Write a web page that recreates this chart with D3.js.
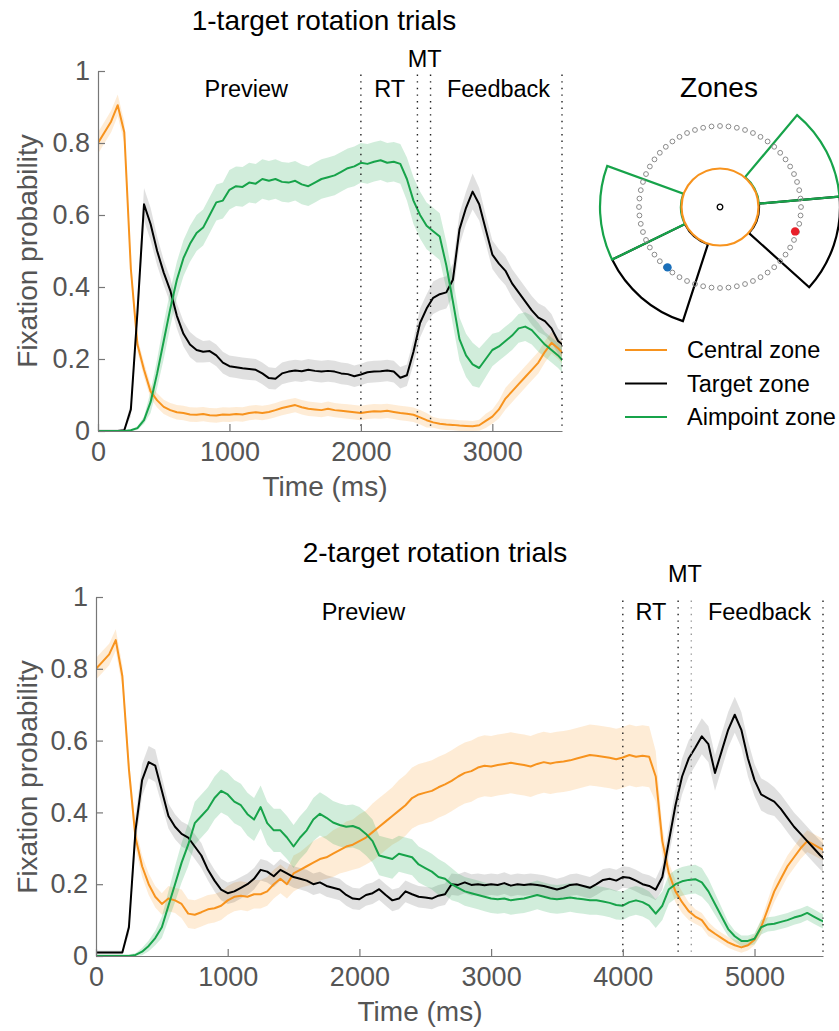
<!DOCTYPE html>
<html>
<head>
<meta charset="utf-8">
<script src="https://cdn.jsdelivr.net/npm/d3@7"></script>
<style>
  body { margin: 0; background: #fff; }
  svg { display: block; font-family: Helvetica, "Liberation Sans", Arial, sans-serif; }
</style>
</head>
<body>
<div id="chart"></div>
<script>
const yTicks = [0, 0.2, 0.4, 0.6, 0.8, 1];
const oneTargetTicks = [0, 1000, 2000, 3000];
const twoTargetTicks = [0, 1000, 2000, 3000, 4000, 5000];
const oneTargetEvents = [2000, 2430, 2530, 3530];
const twoTargetEvents = [4000, 4420, 4520, 5520];
const phaseLabels = ['Preview', 'RT', 'MT', 'Feedback'];
const oneTargetLabelTimes = [1128, 2219, 2485, 3047];
const twoTargetLabelTimes = [2031, 4214, 4472, 5038];
const seriesNames = ['Central zone', 'Target zone', 'Aimpoint zone'];

const oneTime = d3.range(0, 3551, 50);
const twoTime = d3.range(0, 5551, 50);

const oneCentral = [
  0.80, 0.83, 0.86, 0.905, 0.83, 0.45, 0.24, 0.17, 0.11, 0.085,
  0.067, 0.058, 0.052, 0.05, 0.046, 0.045, 0.047, 0.044, 0.043, 0.046,
  0.045, 0.047, 0.046, 0.05, 0.052, 0.05, 0.053, 0.058, 0.064, 0.068,
  0.072, 0.066, 0.062, 0.06, 0.058, 0.062, 0.058, 0.056, 0.054, 0.052,
  0.05, 0.053, 0.055, 0.054, 0.056, 0.053, 0.05, 0.048, 0.045, 0.038,
  0.03, 0.024, 0.02, 0.018, 0.017, 0.015, 0.014, 0.013, 0.016, 0.028,
  0.04, 0.06, 0.09, 0.11, 0.13, 0.15, 0.17, 0.19, 0.22, 0.245,
  0.23, 0.21
];
const oneCentralErr = [
  0.03, 0.03, 0.03, 0.03, 0.03, 0.025, 0.02, 0.02, 0.02, 0.02,
  0.02, 0.02, 0.02, 0.02, 0.02, 0.02, 0.02, 0.02, 0.02, 0.02,
  0.02, 0.02, 0.02, 0.02, 0.02, 0.02, 0.02, 0.02, 0.02, 0.02,
  0.02, 0.02, 0.02, 0.02, 0.02, 0.02, 0.02, 0.02, 0.02, 0.02,
  0.02, 0.02, 0.02, 0.02, 0.02, 0.02, 0.02, 0.02, 0.02, 0.02,
  0.02, 0.015, 0.015, 0.015, 0.015, 0.015, 0.015, 0.015, 0.015, 0.02,
  0.02, 0.025, 0.03, 0.03, 0.03, 0.03, 0.03, 0.03, 0.03, 0.03,
  0.03, 0.03
];
const oneTarget = [
  0, 0, 0, 0, 0.002, 0.06, 0.33, 0.63, 0.575, 0.5,
  0.44, 0.39, 0.32, 0.27, 0.24, 0.225, 0.22, 0.222, 0.21, 0.19,
  0.18, 0.177, 0.174, 0.172, 0.17, 0.16, 0.147, 0.145, 0.16, 0.165,
  0.168, 0.166, 0.17, 0.167, 0.165, 0.167, 0.165, 0.16, 0.158, 0.152,
  0.157, 0.163, 0.165, 0.166, 0.168, 0.165, 0.148, 0.155, 0.22, 0.3,
  0.34, 0.37, 0.38, 0.385, 0.42, 0.56, 0.62, 0.665, 0.63, 0.56,
  0.49, 0.465, 0.445, 0.41, 0.385, 0.36, 0.335, 0.315, 0.305, 0.285,
  0.25, 0.235
];
const oneTargetErr = [
  0.005, 0.005, 0.005, 0.005, 0.005, 0.02, 0.04, 0.045, 0.045, 0.04,
  0.035, 0.035, 0.035, 0.035, 0.035, 0.035, 0.03, 0.03, 0.03, 0.03,
  0.03, 0.03, 0.03, 0.03, 0.03, 0.03, 0.03, 0.03, 0.03, 0.03,
  0.03, 0.03, 0.03, 0.03, 0.03, 0.03, 0.03, 0.03, 0.03, 0.03,
  0.03, 0.03, 0.03, 0.03, 0.03, 0.03, 0.03, 0.03, 0.035, 0.04,
  0.04, 0.045, 0.045, 0.045, 0.045, 0.045, 0.045, 0.05, 0.045, 0.04,
  0.04, 0.04, 0.04, 0.04, 0.04, 0.04, 0.04, 0.04, 0.04, 0.04,
  0.035, 0.035
];
const oneAim = [
  0, 0, 0, 0, 0, 0.002, 0.008, 0.03, 0.08, 0.16,
  0.25, 0.34, 0.42, 0.48, 0.52, 0.55, 0.565, 0.6, 0.635, 0.64,
  0.67, 0.68, 0.678, 0.69, 0.687, 0.7, 0.695, 0.7, 0.692, 0.69,
  0.695, 0.685, 0.68, 0.69, 0.7, 0.705, 0.71, 0.72, 0.73, 0.735,
  0.745, 0.742, 0.748, 0.752, 0.745, 0.748, 0.742, 0.7, 0.64, 0.6,
  0.57, 0.555, 0.54, 0.46, 0.36, 0.255, 0.21, 0.185, 0.175, 0.2,
  0.225, 0.235, 0.25, 0.265, 0.285, 0.29, 0.28, 0.26, 0.24, 0.225,
  0.21, 0.19
];
const oneAimErr = [
  0, 0, 0, 0, 0, 0.003, 0.005, 0.01, 0.03, 0.04,
  0.05, 0.05, 0.05, 0.05, 0.05, 0.05, 0.05, 0.05, 0.05, 0.05,
  0.055, 0.055, 0.055, 0.055, 0.055, 0.055, 0.055, 0.055, 0.055, 0.055,
  0.055, 0.055, 0.055, 0.055, 0.055, 0.055, 0.055, 0.055, 0.055, 0.055,
  0.055, 0.055, 0.055, 0.055, 0.055, 0.055, 0.055, 0.06, 0.065, 0.065,
  0.065, 0.065, 0.065, 0.065, 0.065, 0.06, 0.06, 0.06, 0.055, 0.05,
  0.045, 0.04, 0.04, 0.04, 0.04, 0.04, 0.04, 0.04, 0.035, 0.035,
  0.035, 0.035
];

const twoCentral = [
  0.8, 0.82, 0.84, 0.88, 0.78, 0.52, 0.33, 0.25, 0.2, 0.165,
  0.145, 0.16, 0.155, 0.145, 0.118, 0.115, 0.122, 0.13, 0.133, 0.14,
  0.155, 0.165, 0.168, 0.165, 0.172, 0.172, 0.18, 0.2, 0.215, 0.2,
  0.23, 0.24, 0.25, 0.26, 0.27, 0.275, 0.285, 0.295, 0.305, 0.31,
  0.32, 0.33, 0.345, 0.36, 0.375, 0.39, 0.405, 0.42, 0.44, 0.45,
  0.455, 0.46, 0.47, 0.478, 0.488, 0.5, 0.51, 0.515, 0.525, 0.53,
  0.528, 0.532, 0.535, 0.538, 0.535, 0.532, 0.528, 0.535, 0.54, 0.536,
  0.54, 0.542, 0.545, 0.55, 0.555, 0.56, 0.558, 0.555, 0.552, 0.548,
  0.553, 0.56, 0.555, 0.558, 0.555, 0.5, 0.32, 0.23, 0.18, 0.15,
  0.125, 0.11, 0.1, 0.075, 0.062, 0.05, 0.038, 0.03, 0.024, 0.03,
  0.045, 0.08, 0.13, 0.18, 0.215, 0.25, 0.275, 0.3, 0.32, 0.31,
  0.3, 0.29
];
const twoCentralErr = [
  0.03, 0.03, 0.03, 0.03, 0.03, 0.03, 0.03, 0.03, 0.03, 0.03,
  0.03, 0.035, 0.035, 0.04, 0.04, 0.04, 0.04, 0.04, 0.04, 0.04,
  0.04, 0.04, 0.04, 0.04, 0.04, 0.04, 0.04, 0.04, 0.04, 0.04,
  0.05, 0.05, 0.055, 0.06, 0.06, 0.06, 0.065, 0.065, 0.07, 0.07,
  0.075, 0.075, 0.08, 0.08, 0.08, 0.08, 0.085, 0.085, 0.085, 0.085,
  0.085, 0.085, 0.085, 0.085, 0.085, 0.085, 0.085, 0.085, 0.085, 0.085,
  0.085, 0.085, 0.085, 0.085, 0.085, 0.085, 0.085, 0.085, 0.085, 0.085,
  0.085, 0.085, 0.085, 0.085, 0.085, 0.085, 0.085, 0.085, 0.085, 0.085,
  0.085, 0.085, 0.085, 0.085, 0.085, 0.07, 0.04, 0.03, 0.03, 0.03,
  0.025, 0.02, 0.02, 0.02, 0.015, 0.015, 0.015, 0.015, 0.015, 0.015,
  0.015, 0.02, 0.025, 0.03, 0.03, 0.03, 0.03, 0.03, 0.03, 0.03,
  0.03, 0.03
];
const twoTarget = [
  0.01, 0.01, 0.01, 0.01, 0.01, 0.08, 0.35, 0.49, 0.54, 0.53,
  0.46, 0.39, 0.36, 0.34, 0.33, 0.305, 0.28, 0.24, 0.21, 0.185,
  0.175, 0.18, 0.19, 0.2, 0.215, 0.24, 0.235, 0.222, 0.24, 0.23,
  0.22, 0.215, 0.21, 0.2, 0.205, 0.195, 0.19, 0.185, 0.17, 0.16,
  0.158, 0.17, 0.175, 0.186, 0.17, 0.155, 0.16, 0.18, 0.172, 0.165,
  0.163, 0.16, 0.168, 0.172, 0.2, 0.198, 0.205, 0.198, 0.2, 0.197,
  0.2, 0.198, 0.203, 0.196, 0.2, 0.198, 0.2, 0.198, 0.195, 0.19,
  0.185, 0.19, 0.198, 0.2, 0.195, 0.19, 0.2, 0.212, 0.215, 0.21,
  0.22, 0.218, 0.21, 0.2, 0.195, 0.185, 0.22, 0.32, 0.42, 0.5,
  0.55, 0.58, 0.612, 0.59, 0.51, 0.57, 0.63, 0.672, 0.63, 0.55,
  0.49, 0.45, 0.44, 0.43, 0.41, 0.385, 0.36, 0.34, 0.32, 0.3,
  0.28, 0.265
];
const twoTargetErr = [
  0.005, 0.005, 0.005, 0.005, 0.005, 0.02, 0.04, 0.045, 0.045, 0.045,
  0.04, 0.035, 0.035, 0.035, 0.035, 0.035, 0.035, 0.03, 0.03, 0.03,
  0.03, 0.03, 0.03, 0.03, 0.03, 0.03, 0.03, 0.03, 0.03, 0.03,
  0.03, 0.03, 0.03, 0.03, 0.03, 0.03, 0.03, 0.03, 0.03, 0.03,
  0.03, 0.03, 0.03, 0.03, 0.03, 0.03, 0.03, 0.03, 0.03, 0.03,
  0.03, 0.03, 0.03, 0.03, 0.03, 0.03, 0.03, 0.03, 0.03, 0.03,
  0.03, 0.03, 0.03, 0.03, 0.03, 0.03, 0.03, 0.03, 0.03, 0.03,
  0.03, 0.03, 0.03, 0.03, 0.03, 0.03, 0.03, 0.03, 0.03, 0.03,
  0.03, 0.03, 0.03, 0.03, 0.03, 0.03, 0.035, 0.04, 0.045, 0.05,
  0.05, 0.05, 0.05, 0.05, 0.05, 0.05, 0.05, 0.05, 0.05, 0.05,
  0.045, 0.045, 0.045, 0.04, 0.04, 0.04, 0.04, 0.04, 0.04, 0.04,
  0.04, 0.04
];
const twoAim = [
  0, 0, 0, 0, 0, 0, 0.003, 0.012, 0.028, 0.05,
  0.08, 0.14, 0.2, 0.26, 0.31, 0.37, 0.39, 0.41, 0.44, 0.46,
  0.45, 0.43, 0.42, 0.395, 0.38, 0.415, 0.37, 0.35, 0.35, 0.33,
  0.305, 0.33, 0.35, 0.38, 0.396, 0.385, 0.372, 0.365, 0.36, 0.362,
  0.355, 0.34, 0.32, 0.28, 0.275, 0.27, 0.285, 0.28, 0.275, 0.255,
  0.245, 0.235, 0.22, 0.215, 0.2, 0.19, 0.18, 0.175, 0.17, 0.165,
  0.16, 0.158, 0.16, 0.155, 0.158, 0.16, 0.165, 0.17, 0.165, 0.16,
  0.158, 0.16, 0.163, 0.16, 0.158, 0.155, 0.155, 0.152, 0.148, 0.142,
  0.14, 0.15, 0.155, 0.15, 0.14, 0.118, 0.14, 0.186, 0.2, 0.208,
  0.212, 0.214, 0.205, 0.18, 0.145, 0.11, 0.075, 0.055, 0.042, 0.042,
  0.048, 0.08, 0.088, 0.09, 0.095, 0.1, 0.107, 0.112, 0.12, 0.11,
  0.1, 0.092
];
const twoAimErr = [
  0.005, 0.005, 0.005, 0.005, 0.005, 0.005, 0.005, 0.01, 0.015, 0.02,
  0.03, 0.04, 0.05, 0.055, 0.06, 0.06, 0.06, 0.06, 0.06, 0.06,
  0.06, 0.06, 0.06, 0.06, 0.06, 0.06, 0.06, 0.06, 0.06, 0.06,
  0.06, 0.06, 0.06, 0.06, 0.06, 0.06, 0.06, 0.06, 0.06, 0.06,
  0.06, 0.06, 0.06, 0.055, 0.055, 0.055, 0.05, 0.05, 0.05, 0.05,
  0.05, 0.05, 0.05, 0.045, 0.045, 0.04, 0.04, 0.04, 0.04, 0.04,
  0.04, 0.04, 0.04, 0.04, 0.04, 0.04, 0.04, 0.04, 0.04, 0.04,
  0.04, 0.04, 0.04, 0.04, 0.04, 0.04, 0.04, 0.04, 0.04, 0.04,
  0.04, 0.04, 0.04, 0.04, 0.04, 0.04, 0.04, 0.04, 0.04, 0.04,
  0.04, 0.04, 0.04, 0.035, 0.03, 0.025, 0.02, 0.015, 0.015, 0.015,
  0.015, 0.02, 0.02, 0.02, 0.02, 0.02, 0.02, 0.02, 0.02, 0.02,
  0.02, 0.02
];

// ---- styling ----
const colors = ['#f7931e', '#000000', '#17a34a'];
const bandColors = ['rgba(247,147,30,0.18)', 'rgba(0,0,0,0.12)', 'rgba(23,163,74,0.2)'];
const axisGray = '#555';

const svg = d3.select('#chart')
  .append('svg')
  .attr('width', 839)
  .attr('height', 1031);

function drawPanel({ id, time, series, errors, xMax, xRange, yRange, ticks, events, labelTimes,
                     title, titleX, titleY, xLabelX, yLabelY, labelY, mtY, lightEvent }) {
  const x = d3.scaleLinear().domain([0, xMax]).range(xRange);
  const y = d3.scaleLinear().domain([0, 1]).range(yRange);
  const g = svg.append('g');

  g.append('clipPath').attr('id', id)
    .append('rect')
    .attr('x', xRange[0]).attr('y', yRange[1] - 20)
    .attr('width', xRange[1] - xRange[0]).attr('height', yRange[0] - yRange[1] + 20);

  const plot = g.append('g').attr('clip-path', `url(#${id})`);

  // error bands first, then the mean lines
  series.forEach((vals, i) => {
    const area = d3.area()
      .x((d, j) => x(time[j]))
      .y0((d, j) => y(Math.max(0, d - errors[i][j])))
      .y1((d, j) => y(d + errors[i][j]));
    plot.append('path')
      .datum(vals)
      .attr('d', area)
      .attr('fill', bandColors[i]);
  });
  series.forEach((vals, i) => {
    const line = d3.line()
      .x((d, j) => x(time[j]))
      .y(d => y(d));
    plot.append('path')
      .datum(vals)
      .attr('d', line)
      .attr('fill', 'none')
      .attr('stroke', colors[i])
      .attr('stroke-width', 2)
      .attr('stroke-linejoin', 'round');
  });

  // event markers
  g.selectAll('.event')
    .data(events)
    .join('line')
    .attr('x1', d => x(d)).attr('x2', d => x(d))
    .attr('y1', y(0.99)).attr('y2', y(0))
    .attr('stroke', (d, i) => (lightEvent && i === 2 ? '#9a9a9a' : '#222'))
    .attr('stroke-width', 1.4)
    .attr('stroke-dasharray', '1.4,5.2');

  // axes, MATLAB style with inward ticks
  const xAxis = g.append('g')
    .attr('transform', `translate(0,${yRange[0]})`)
    .call(d3.axisBottom(x).tickValues(ticks).tickSize(-7).tickSizeOuter(0).tickPadding(11)
      .tickFormat(d3.format('d')));
  const yAxis = g.append('g')
    .attr('transform', `translate(${xRange[0]},0)`)
    .call(d3.axisLeft(y).tickValues(yTicks).tickSize(-7).tickSizeOuter(0).tickPadding(8)
      .tickFormat(d3.format('~g')));
  [xAxis, yAxis].forEach(a => {
    a.select('.domain').attr('stroke', '#777').attr('stroke-width', 1.2);
    a.selectAll('.tick line').attr('stroke', '#777').attr('stroke-width', 1.2);
    a.selectAll('.tick text').attr('fill', axisGray).style('font-size', '27px')
      .style('font-family', 'Helvetica, "Liberation Sans", Arial, sans-serif');
  });

  g.append('text')
    .attr('x', xLabelX).attr('y', yRange[0] + 65)
    .attr('text-anchor', 'middle')
    .attr('fill', axisGray)
    .style('font-size', '28px')
    .text('Time (ms)');

  g.append('text')
    .attr('transform', `translate(37,${yLabelY}) rotate(-90)`)
    .attr('text-anchor', 'middle')
    .attr('fill', axisGray)
    .style('font-size', '28px')
    .text('Fixation probability');

  g.append('text')
    .attr('x', titleX).attr('y', titleY)
    .attr('text-anchor', 'middle')
    .style('font-size', '28px')
    .text(title);

  g.selectAll('.phase')
    .data(phaseLabels)
    .join('text')
    .attr('x', (d, i) => x(labelTimes[i]))
    .attr('y', d => (d === 'MT' ? mtY : labelY))
    .attr('text-anchor', 'middle')
    .style('font-size', '23.5px')
    .text(d => d);
}

drawPanel({
  id: 'clip1', time: oneTime,
  series: [oneCentral, oneTarget, oneAim],
  errors: [oneCentralErr, oneTargetErr, oneAimErr],
  xMax: 3530, xRange: [98, 562], yRange: [431, 71],
  ticks: oneTargetTicks, events: oneTargetEvents, labelTimes: oneTargetLabelTimes,
  title: '1-target rotation trials', titleX: 324, titleY: 30,
  xLabelX: 325, yLabelY: 251, labelY: 97, mtY: 67, lightEvent: false
});

drawPanel({
  id: 'clip2', time: twoTime,
  series: [twoCentral, twoTarget, twoAim],
  errors: [twoCentralErr, twoTargetErr, twoAimErr],
  xMax: 5520, xRange: [96, 823], yRange: [956, 597],
  ticks: twoTargetTicks, events: twoTargetEvents, labelTimes: twoTargetLabelTimes,
  title: '2-target rotation trials', titleX: 435, titleY: 562,
  xLabelX: 420, yLabelY: 777, labelY: 620, mtY: 582, lightEvent: true
});

// ---- zones schematic ----
const zone = svg.append('g').attr('transform', 'translate(720,207)');
const toRad = deg => deg * Math.PI / 180;
// wedges given as counter-clockwise angles from the +x axis
const targetWedges = [[-42, 5], [206, 252]];
const aimWedges = [[5, 50], [160, 206]];
const arc = d3.arc().innerRadius(39).outerRadius(120);

function drawWedges(list, color) {
  zone.selectAll(null)
    .data(list)
    .join('path')
    .attr('d', d => arc({ startAngle: toRad(90 - d[1]), endAngle: toRad(90 - d[0]) }))
    .attr('fill', 'none')
    .attr('stroke', color)
    .attr('stroke-width', 2.2)
    .attr('stroke-linejoin', 'miter');
}
drawWedges(targetWedges, '#000');
drawWedges(aimWedges, colors[2]);

zone.selectAll('.ring')
  .data(d3.range(60))
  .join('circle')
  .attr('cx', d => 81 * Math.cos(2 * Math.PI * d / 60))
  .attr('cy', d => 81 * Math.sin(2 * Math.PI * d / 60))
  .attr('r', 2.4)
  .attr('fill', 'none')
  .attr('stroke', '#8a8a8a')
  .attr('stroke-width', 1);

zone.append('circle').attr('r', 38.5)
  .attr('fill', '#fff').attr('stroke', colors[0]).attr('stroke-width', 2.2);
zone.append('circle').attr('r', 2.8)
  .attr('fill', '#fff').attr('stroke', '#000').attr('stroke-width', 1.3);

zone.append('circle')
  .attr('cx', 79 * Math.cos(toRad(-18))).attr('cy', -79 * Math.sin(toRad(-18)))
  .attr('r', 4.2).attr('fill', '#e8202a');
zone.append('circle')
  .attr('cx', 80 * Math.cos(toRad(229))).attr('cy', -80 * Math.sin(toRad(229)))
  .attr('r', 4.2).attr('fill', '#1a6fba');

svg.append('text')
  .attr('x', 719).attr('y', 97)
  .attr('text-anchor', 'middle')
  .style('font-size', '28px')
  .text('Zones');

// legend
const legend = svg.append('g').attr('transform', 'translate(625,350)');
const rows = legend.selectAll('g')
  .data(seriesNames)
  .join('g')
  .attr('transform', (d, i) => `translate(0,${i * 33.5})`);
rows.append('line')
  .attr('x1', 0).attr('x2', 42)
  .attr('stroke', (d, i) => colors[i])
  .attr('stroke-width', 2.2);
rows.append('text')
  .attr('x', 62).attr('y', 8)
  .style('font-size', '23.5px')
  .text(d => d);
</script>
</body>
</html>
